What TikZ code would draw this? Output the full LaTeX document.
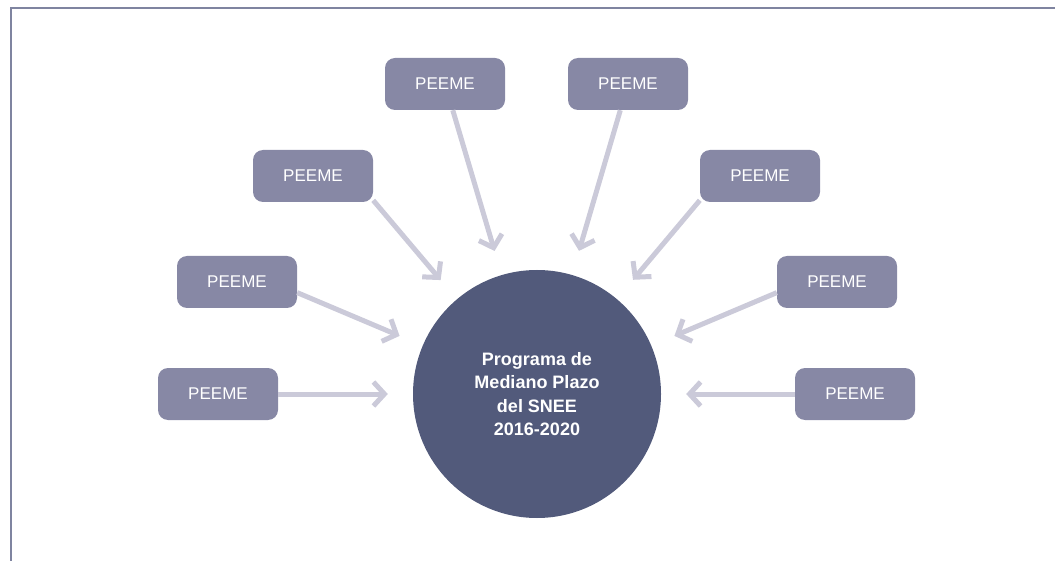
\documentclass[tikz,border=0pt]{standalone}
\usepackage{fontspec}
\setmainfont{Liberation Sans}
\usepackage{tikz}
\usetikzlibrary{arrows.meta}
\definecolor{boxgray}{HTML}{8788A5}
\definecolor{hubblue}{HTML}{525A7B}
\definecolor{arrowgray}{HTML}{CBCAD9}
\definecolor{framegray}{HTML}{7F84A0}

\begin{document}
\begin{tikzpicture}[x=1pt,y=-1pt,
    peeme/.style={fill=boxgray,rounded corners=10pt,minimum width=120pt,minimum height=52pt,
        inner sep=0pt,text=white,font=\fontsize{17pt}{20pt}\selectfont},
    hubnode/.style={circle,fill=hubblue,minimum size=248pt,inner sep=0pt,text=white,
        align=center,font=\bfseries\fontsize{18pt}{23.5pt}\selectfont},
    feed/.style={draw=arrowgray,line width=5pt,-{Straight Barb[length=11pt,width=24pt]},shorten >=25pt}]
    \useasboundingbox (0,0) rectangle (1055,561);
    \draw[framegray,line width=2pt] (1055,8) -- (11,8) -- (11,561);

    \node[hubnode] (snee) at (537,394) {Programa de\\Mediano Plazo\\del SNEE\\2016-2020};

    \node[peeme] (b1) at (218,394) {PEEME};
    \node[peeme] (b2) at (237,282) {PEEME};
    \node[peeme] (b3) at (313,176) {PEEME};
    \node[peeme] (b4) at (445,84) {PEEME};
    \node[peeme] (b5) at (628,84) {PEEME};
    \node[peeme] (b6) at (760,176) {PEEME};
    \node[peeme] (b7) at (837,282) {PEEME};
    \node[peeme] (b8) at (855,394) {PEEME};

    \draw[feed] (b1.east) -- (snee);
    \draw[feed] (b2.-10) -- (snee);
    \draw[feed] (b3.-22) -- (snee);
    \draw[feed] (b4) -- (snee);
    \draw[feed] (b5) -- (snee);
    \draw[feed] (b6.-158) -- (snee);
    \draw[feed] (b7.-170) -- (snee);
    \draw[feed] (b8.west) -- (snee);
\end{tikzpicture}
\end{document}
